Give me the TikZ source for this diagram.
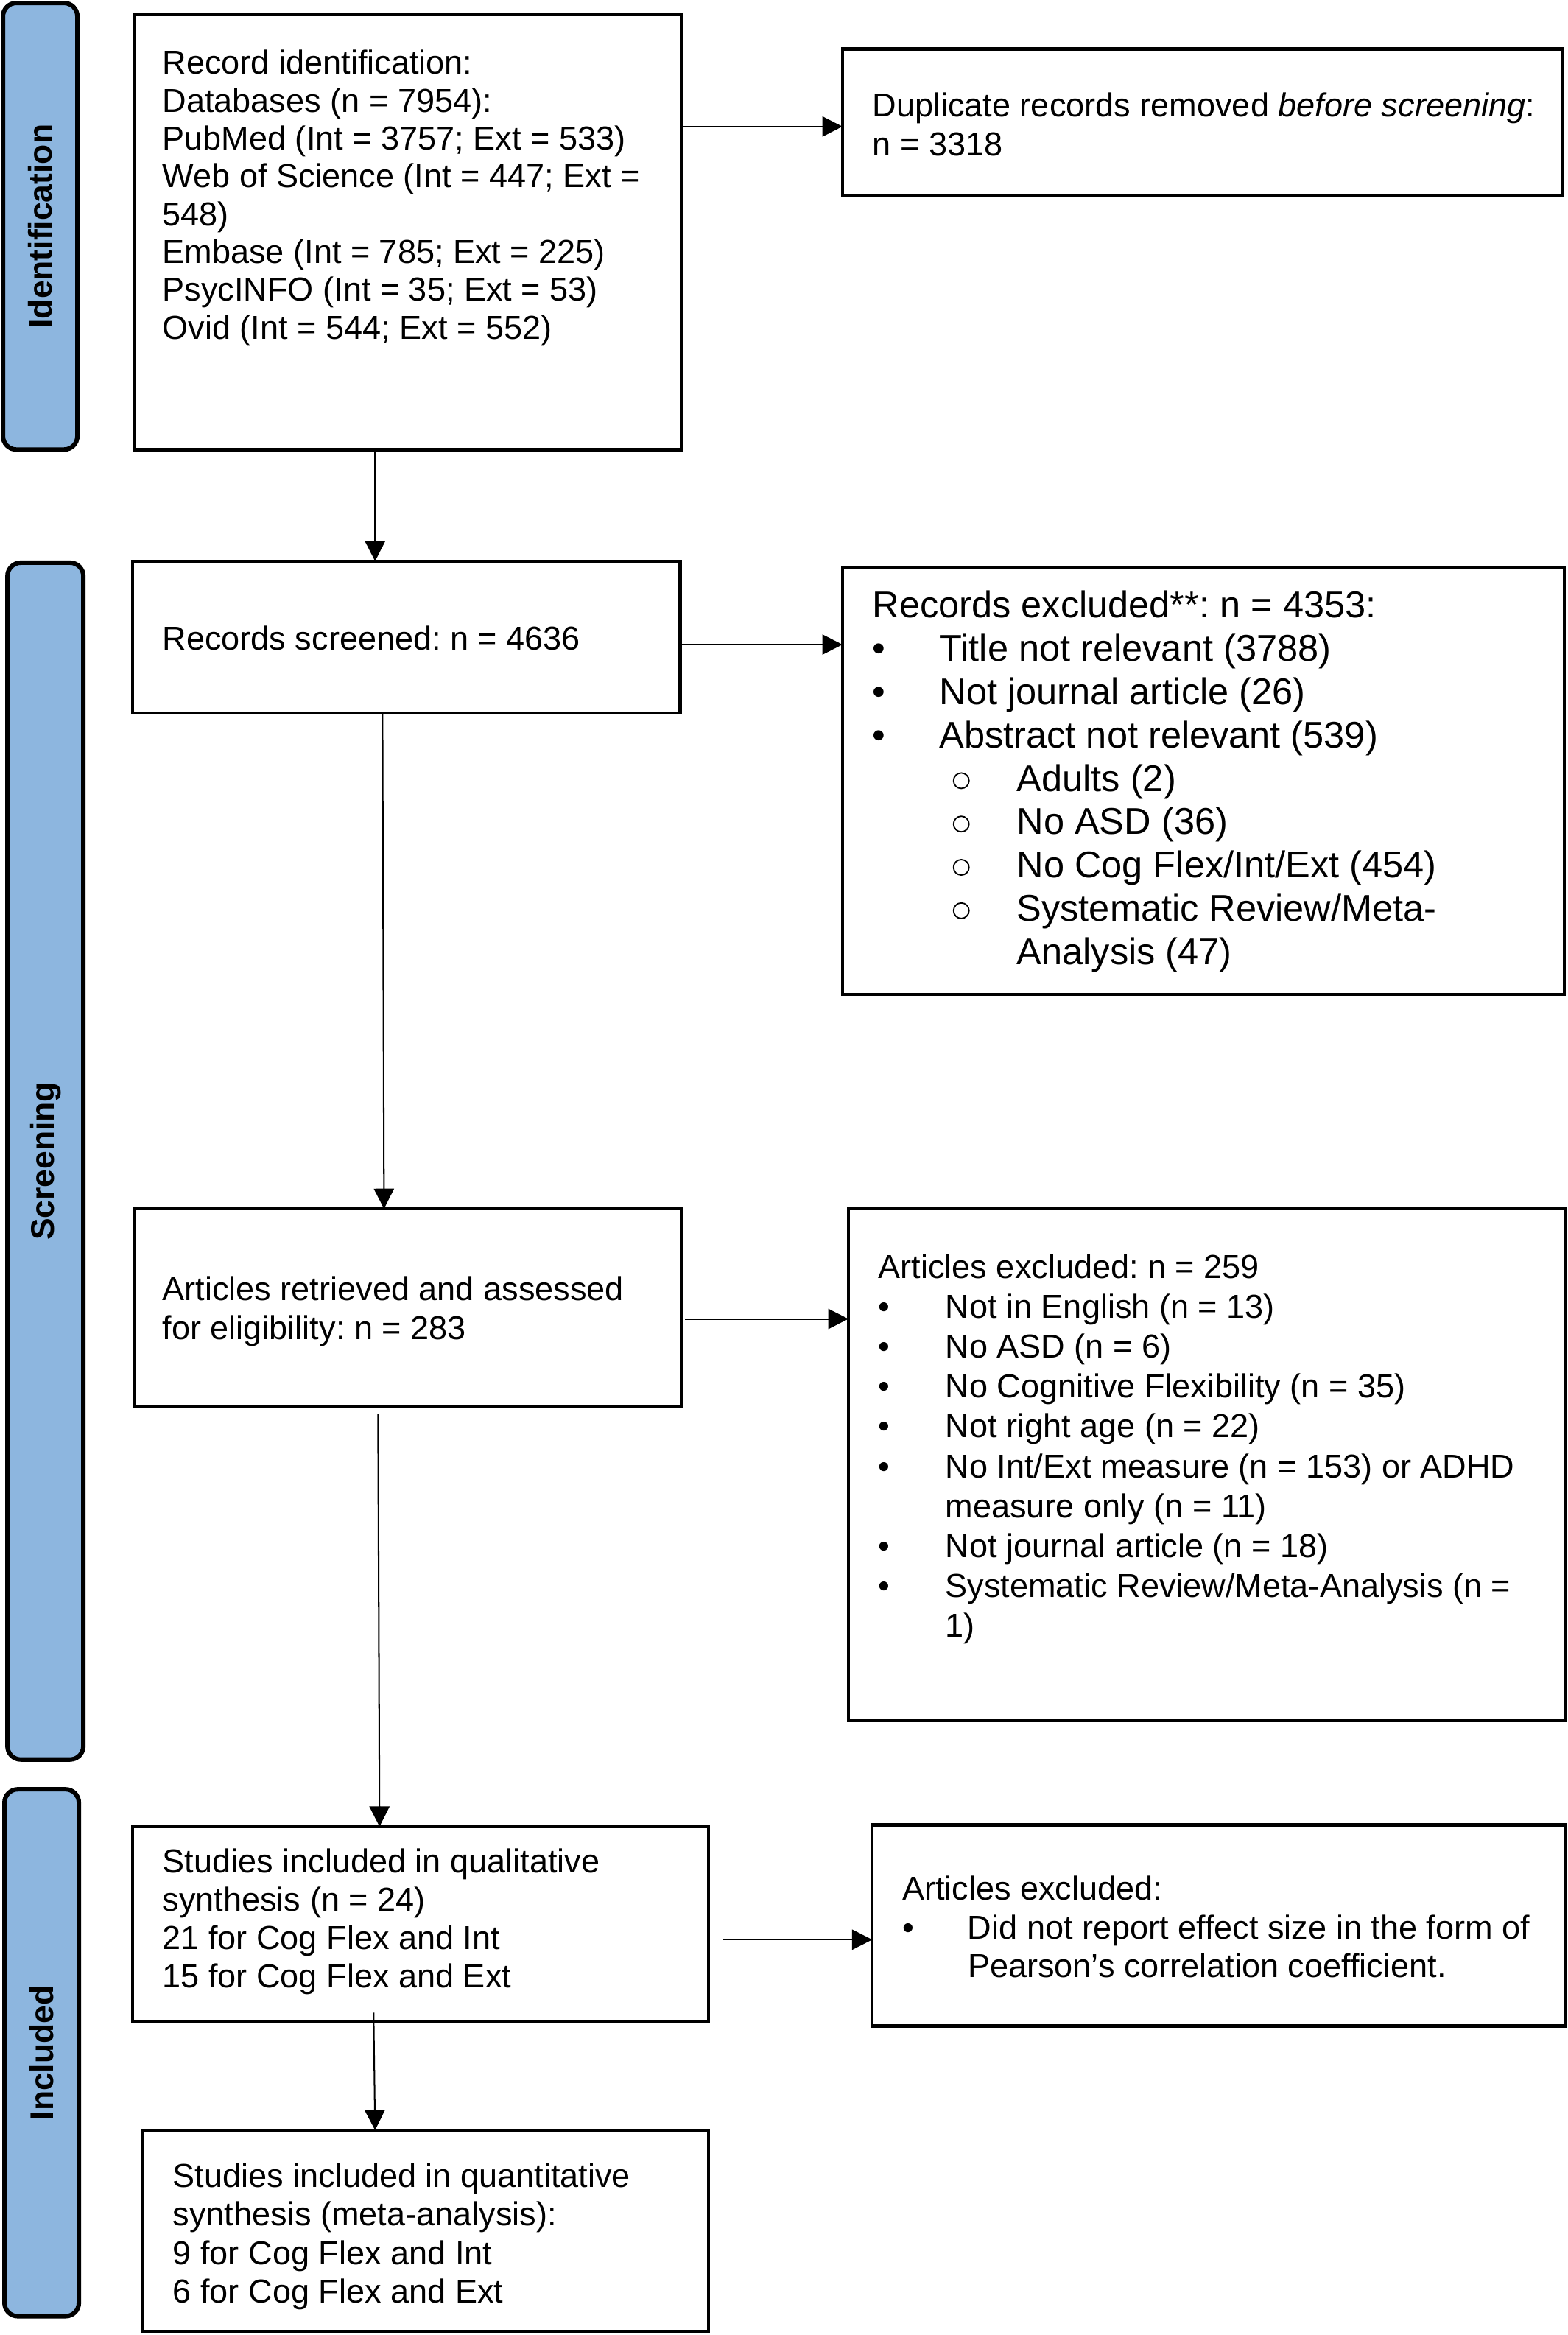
\documentclass[tikz,border=0pt]{standalone}
\usepackage{fontspec}
\setmainfont{Liberation Sans}
\usetikzlibrary{arrows.meta,calc}
\definecolor{barblue}{RGB}{141,182,223}
\newcommand{\bulA}[1]{\makebox[45pt][l]{•}#1}
\newcommand{\ringmark}{\tikz[baseline=0pt]\draw[line width=0.9pt] (0pt,7pt) circle[radius=5.2pt];}
\newcommand{\subA}[1]{\hspace*{54pt}\makebox[43pt][l]{\ringmark}#1}
\begin{document}
\frenchspacing
\begin{tikzpicture}[x=1pt,y=-1pt,
  box/.style={draw, line width=2.2pt, inner sep=0pt, outer sep=0pt},
  bar/.style={draw, line width=3pt, fill=barblue, rounded corners=9pt, inner sep=0pt, outer sep=0pt},
  bartext/.style={rotate=90, font=\bfseries\fontsize{22}{26}\selectfont, inner sep=0pt},
  txt/.style={anchor=west, align=left, inner sep=0pt},
  arr/.style={-{Triangle[length=13.5pt,width=13.5pt]}, line width=1pt}]
\useasboundingbox (0,0) rectangle (1053,1568.6);
% side bars
\node[bar, minimum width=50pt, minimum height=300pt] (idb) at (27,152) {};
\node[bar, minimum width=51pt, minimum height=804pt] (scb) at (30.5,780) {};
\node[bar, minimum width=50pt, minimum height=354pt] (inb) at (28,1379) {};
\node[bartext] (lid) at (idb.center) {Identification};
\node[bartext] (lsc) at (scb.center) {Screening};
\node[bartext] (lin) at (inb.center) {Included};
% boxes
\node[box, minimum width=368pt, minimum height=292pt] (b1) at (274,156) {};
\node[box, minimum width=484pt, minimum height=98pt] (dup) at (808,82) {};
\node[box, minimum width=368pt, minimum height=102pt] (scr) at (273,428) {};
\node[box, minimum width=485pt, minimum height=287pt] (exc1) at (808.5,524.5) {};
\node[box, minimum width=368pt, minimum height=133pt] (ret) at (274,878.5) {};
\node[box, minimum width=482pt, minimum height=344pt] (exc2) at (811,984) {};
\node[box, minimum width=387pt, minimum height=131pt] (qual) at (282.5,1292.5) {};
\node[box, minimum width=466pt, minimum height=135pt] (exc3) at (819,1293.5) {};
\node[box, minimum width=380pt, minimum height=135pt] (quant) at (286,1498.5) {};
% texts
\node[txt, font=\fontsize{22.3}{25.4}\selectfont] (t1) at (109,133) {Record identification:\\
Databases (n = 7954):\\
PubMed (Int = 3757; Ext = 533)\\
Web of Science (Int = 447; Ext =\\
548)\\
Embase (Int = 785; Ext = 225)\\
PsycINFO (Int = 35; Ext = 53)\\
Ovid (Int = 544; Ext = 552)};
\node[txt, font=\fontsize{22.3}{26}\selectfont] (tdup) at (586,83.5) {Duplicate records removed \textit{before screening}:\\
n = 3318};
\node[txt, font=\fontsize{22.3}{26}\selectfont] (tscr) at (109,428.5) {Records screened: n = 4636};
\node[txt, font=\fontsize{25}{29.1}\selectfont] (texc1) at (586,525) {Records excluded**: n = 4353:\\
\bulA{Title not relevant (3788)}\\
\bulA{Not journal article (26)}\\
\bulA{Abstract not relevant (539)}\\
\subA{Adults (2)}\\
\subA{No ASD (36)}\\
\subA{No Cog Flex/Int/Ext (454)}\\
\subA{Systematic Review/Meta-}\\
\hspace*{97pt}Analysis (47)};
\node[txt, font=\fontsize{22.3}{26}\selectfont] (tret) at (109,881) {Articles retrieved and assessed\\
for eligibility: n = 283};
\node[txt, font=\fontsize{22.3}{26.8}\selectfont] (texc2) at (590,973.5) {Articles excluded: n = 259\\
\bulA{Not in English (n = 13)}\\
\bulA{No ASD (n = 6)}\\
\bulA{No Cognitive Flexibility (n = 35)}\\
\bulA{Not right age (n = 22)}\\
\bulA{No Int/Ext measure (n = 153) or ADHD}\\
\hspace*{45pt}measure only (n = 11)\\
\bulA{Not journal article (n = 18)}\\
\bulA{Systematic Review/Meta-Analysis (n =}\\
\hspace*{45pt}1)};
\node[txt, font=\fontsize{22.3}{25.7}\selectfont] (tqual) at (109,1291) {Studies included in qualitative\\
synthesis (n = 24)\\
21 for Cog Flex and Int\\
15 for Cog Flex and Ext};
\node[txt, font=\fontsize{22.3}{26}\selectfont] (texc3) at (606,1294.5) {Articles excluded:\\
\makebox[44pt][l]{•}Did not report effect size in the form of\\
\hspace*{44pt}Pearson’s correlation coefficient.};
\node[txt, font=\fontsize{22.3}{26}\selectfont] (tquant) at (116,1502.5) {Studies included in quantitative\\
synthesis (meta-analysis):\\
9 for Cog Flex and Int\\
6 for Cog Flex and Ext};
% arrows
\coordinate (h1) at ($(dup.west)+(0,3)$);
\draw[arr] (b1.east |- h1) -- (h1);
\coordinate (h2) at ($(scr.east)+(0,5)$);
\draw[arr] (h2) -- (h2 -| exc1.west);
\coordinate (h3) at ($(ret.east)+(2,7.5)$);
\draw[arr] (h3) -- (h3 -| exc2.west);
\coordinate (h4) at ($(qual.east)+(10,10.5)$);
\draw[arr] (h4) -- (h4 -| exc3.west);
\draw[arr] ([xshift=-22pt]b1.south) -- ([xshift=-21pt]scr.north);
\draw[arr] ([xshift=-16pt]scr.south) -- ([xshift=-16pt]ret.north);
\draw[arr] ([xshift=-20pt,yshift=-5pt]ret.south) -- ([xshift=-27.5pt]qual.north);
\draw[arr] ([xshift=-31.5pt,yshift=6pt]qual.south) -- ([xshift=-34pt]quant.north);
\end{tikzpicture}
\end{document}
